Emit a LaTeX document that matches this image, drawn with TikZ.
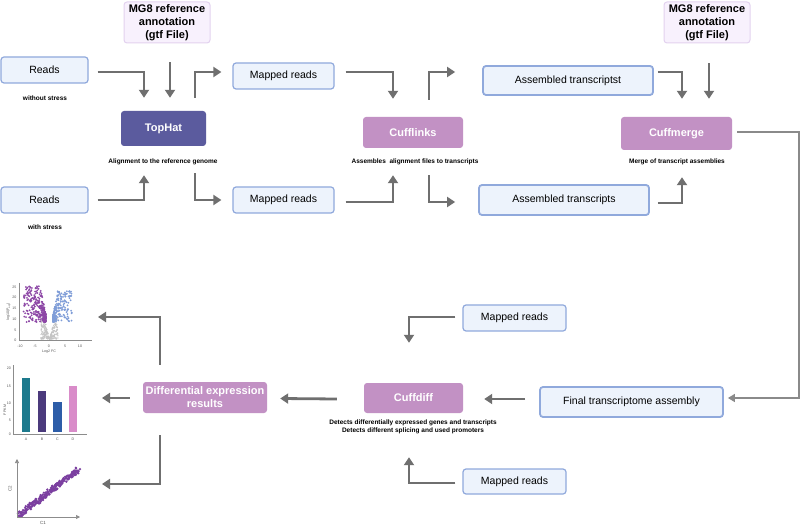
\documentclass[tikz,border=0pt]{standalone}
\usepackage{fontspec}
\setmainfont{Liberation Sans}
\usetikzlibrary{arrows.meta,calc}
\definecolor{boxfill}{HTML}{EDF3FC}
\definecolor{boxline}{HTML}{90A9DC}
\definecolor{tophatc}{HTML}{5B5B9E}
\definecolor{cuffc}{HTML}{C291C4}
\definecolor{mgfill}{HTML}{F8F1FD}
\definecolor{mgline}{HTML}{E3D2EF}
\definecolor{arrowc}{HTML}{6F6F6F}
\definecolor{thinc}{HTML}{8A8A8A}
\definecolor{volp}{HTML}{8D47A6}
\definecolor{volb}{HTML}{7F9DD8}
\definecolor{volg}{HTML}{C4C4C4}
\definecolor{barA}{HTML}{1D7A8D}
\definecolor{barB}{HTML}{4B3A7C}
\definecolor{barC}{HTML}{2D5DA8}
\definecolor{barD}{HTML}{D98CC9}
\definecolor{scatc}{HTML}{7B3FA0}
\definecolor{axisc}{HTML}{8C8C8C}
\definecolor{ticktxt}{HTML}{555555}
\begin{document}
\begin{tikzpicture}[x=1pt,y=-1pt,
  inbox/.style={draw=boxline, line width=1.2pt, fill=boxfill, rounded corners=3pt, inner sep=0pt, font=\fontsize{10.5}{12}\selectfont},
  asmbox/.style={inbox, line width=1.8pt},
  toolbox/.style={fill=cuffc, rounded corners=3pt, text=white, inner sep=0pt, align=center, font=\fontsize{11}{13}\selectfont\bfseries},
  refbox/.style={draw=mgline, fill=mgfill, line width=1pt, rounded corners=3pt, inner sep=0pt, align=center, font=\fontsize{11}{12.7}\selectfont\bfseries},
  desc/.style={font=\fontsize{6.5}{8}\selectfont\bfseries, align=center, inner sep=0pt},
  flow/.style={draw=arrowc, line width=2.8pt, -{Triangle[length=8pt,width=10pt]}},
  thinflow/.style={draw=thinc, line width=1.5pt, -{Triangle[length=7pt,width=8pt]}},
  chartaxis/.style={draw=axisc, line width=0.6pt},
  tick/.style={font=\fontsize{3.6}{4}\selectfont, text=ticktxt, inner sep=0pt},
  axlabel/.style={font=\fontsize{4.5}{5}\selectfont, text=ticktxt, inner sep=0pt}
]
\useasboundingbox[fill=white] (0,0) rectangle (800,526);

% ---------- top row ----------
\node[refbox, minimum width=86, minimum height=41] (mg1) at (167,22.5) {MG8 reference\\annotation\\(gtf File)};
\node[refbox, minimum width=86, minimum height=41] (mg2) at (707,22.5) {MG8 reference\\annotation\\(gtf File)};

\node[inbox, minimum width=87, minimum height=26] (reads1) at (44.5,70) {Reads};
\node[desc] (ws1) at (45,98) {without stress};
\node[inbox, minimum width=87, minimum height=26] (reads2) at (44.5,200) {Reads};
\node[desc] (ws2) at (45,227) {with stress};

\node[toolbox, fill=tophatc, minimum width=85, minimum height=35] (tophat) at (163.5,128.5) {TopHat};
\node[desc] (dtop) at (163,162) {Alignment to the reference genome};

\node[inbox, minimum width=101, minimum height=26] (map1) at (283.5,76) {Mapped reads};
\node[inbox, minimum width=101, minimum height=26] (map2) at (283.5,200) {Mapped reads};

\node[toolbox, minimum width=100, minimum height=31] (cufflinks) at (413,132.5) {Cufflinks};
\node[desc] (dcl) at (415,162) {Assembles\ \ alignment files to transcripts};

\node[asmbox, minimum width=170, minimum height=29] (asm1) at (568,80.5) {Assembled transcriptst};
\node[asmbox, minimum width=170, minimum height=30] (asm2) at (564,200) {Assembled transcripts};

\node[toolbox, minimum width=111, minimum height=33] (cuffmerge) at (676.5,133.5) {Cuffmerge};
\node[desc] (dcm) at (677,162) {Merge of transcript assemblies};

% ---------- bottom row ----------
\node[asmbox, minimum width=183, minimum height=30] (final) at (631.5,402) {Final transcriptome assembly};
\node[inbox, minimum width=103, minimum height=26] (mr3) at (514.5,318) {Mapped reads};
\node[inbox, minimum width=103, minimum height=25] (mr4) at (514.5,481.5) {Mapped reads};
\node[toolbox, minimum width=99, minimum height=30] (cuffdiff) at (413.5,398) {Cuffdiff};
\node[desc] (dcd) at (413,427) {Detects differentially expressed genes and transcripts\\Detects different splicing and used promoters};
\node[toolbox, minimum width=124, minimum height=31] (der) at (205,397.5) {Differential expression\\results};

\coordinate (volc) at (98,317);
\coordinate (barc) at (102,398);
\coordinate (scat) at (102,484);

% ---------- connectors ----------
\draw[flow] ($(reads1.east)+(9,2)$) -| ($(tophat.north)+(-19.5,-13)$);
\draw[flow] ($(mg1.south)+(3,19)$) -- ($(tophat.north)+(6.5,-13)$);
\draw[flow] ($(tophat.north)+(31.5,-13)$) |- ($(map1.west)+(-11,-4)$);
\draw[flow] ($(reads2.east)+(9,0)$) -| ($(tophat.south)+(-19.5,29)$);
\draw[flow] ($(tophat.south)+(31.5,27)$) |- ($(map2.west)+(-11,0)$);

\draw[flow] ($(map1.east)+(11,-4)$) -| ($(cufflinks.north)+(-20,-18)$);
\draw[flow] ($(map2.east)+(11,2)$) -| ($(cufflinks.south)+(-20,27)$);
\draw[flow] ($(cufflinks.north)+(16,-17)$) |- ($(asm1.west)+(-27,-8.5)$);
\draw[flow] ($(cufflinks.south)+(16,27)$) |- ($(asm2.west)+(-23,2)$);

\draw[flow] ($(asm1.east)+(4,-8.5)$) -| ($(cuffmerge.north)+(5.5,-18)$);
\draw[flow] ($(mg2.south)+(2,20)$) -- ($(cuffmerge.north)+(32.5,-18)$);
\draw[flow] ($(asm2.east)+(8,3)$) -| ($(cuffmerge.south)+(5.5,27)$);

\draw[thinflow] ($(cuffmerge.east)+(5,-1.5)$) -| ($(final.east)+(75,-4)$) -- ($(final.east)+(4,-4)$);

\draw[flow] ($(mr3.west)+(-7,-1)$) -| ($(cuffdiff.north)+(-4.5,-40)$);
\draw[flow] ($(final.west)+(-14,-3)$) -- ($(cuffdiff.east)+(21,1)$);
\draw[flow] ($(mr4.west)+(-7,1.5)$) -| ($(cuffdiff.south)+(-4.5,44)$);
\draw[flow] ($(cuffdiff.west)+(-27,1)$) -- ($(der.east)+(13,1)$);

\draw[flow] ($(der.north)+(-45,-17)$) |- (volc);
\draw[flow] ($(der.west)+(-13,0.5)$) -- (barc);
\draw[flow] ($(der.south)+(-45,22)$) |- (scat);

% ---------- volcano plot ----------
\pgfmathsetseed{11}
\foreach \i in {1,...,260}{
  \pgfmathsetmacro\dd{(2*rnd-1)*8.5}
  \pgfmathsetmacro\px{49.5+\dd}
  \pgfmathsetmacro\py{339-rnd*min(21,abs(\dd)*4)}
  \fill[volg] (\px,\py) circle[radius=0.7];
}
\foreach \i in {1,...,380}{
  \pgfmathsetmacro\rr{rnd}
  \pgfmathsetmacro\aa{1.5+22*\rr*\rr*\rr}
  \pgfmathsetmacro\px{47-\aa}
  \pgfmathsetmacro\py{322-rnd*min(36,5.5*\aa)}
  \fill[volp] (\px,\py) circle[radius=1.0];
}
\foreach \i in {1,...,270}{
  \pgfmathsetmacro\rr{rnd}
  \pgfmathsetmacro\aa{1+19*\rr*\rr*\rr}
  \pgfmathsetmacro\px{52+\aa}
  \pgfmathsetmacro\py{322-rnd*min(31,5.5*\aa)}
  \fill[volb] (\px,\py) circle[radius=1.0];
}
\draw[chartaxis] (19,283) -- (19,340) -- (92,340);
\foreach \v/\yy in {0/340,5/330,10/319,15/308,20/297,25/287}{
  \node[tick, anchor=east] at (16.5,\yy) {\v};
}
\foreach \v/\xx in {-10/20,-5/35,0/49,5/65,10/80}{
  \node[tick] at (\xx,346) {\v};
}
\node[tick] at (49,352) {Log2 FC};
\node[tick, rotate=90] at (8.5,312) {log10(P\textsubscript{adj})};

% ---------- bar chart ----------
\fill[barA] (22,378) rectangle (30,432);
\fill[barB] (38,391) rectangle (46,432);
\fill[barC] (53,402) rectangle (62,432);
\fill[barD] (69,386) rectangle (77,432);
\draw[chartaxis] (13,365) -- (13,434) -- (87,434);
\foreach \v/\yy in {0/434,5/420,10/403,15/386,20/368}{
  \node[tick, anchor=east] at (11,\yy) {\v};
}
\foreach \v/\xx in {A/26,B/42,C/57.5,D/73}{
  \node[tick] at (\xx,439) {\v};
}
\node[tick, rotate=90] at (5,410) {FPKM};

% ---------- scatter plot ----------
\foreach \i in {1,...,260}{
  \pgfmathsetmacro\tt{rnd}
  \pgfmathsetmacro\px{19+60*\tt+(rnd-0.5)*3}
  \pgfmathsetmacro\py{515-46*\tt+(rnd-0.5)*6}
  \fill[scatc] (\px,\py) circle[radius=1.3];
}
\draw[chartaxis, -{Triangle[length=4pt,width=4pt]}] (17,517) -- (17,459);
\draw[chartaxis, -{Triangle[length=4pt,width=4pt]}] (17,517) -- (80,517);
\node[axlabel, rotate=90] at (10,489) {C2};
\node[axlabel] at (43,523) {C1};
\end{tikzpicture}
\end{document}
